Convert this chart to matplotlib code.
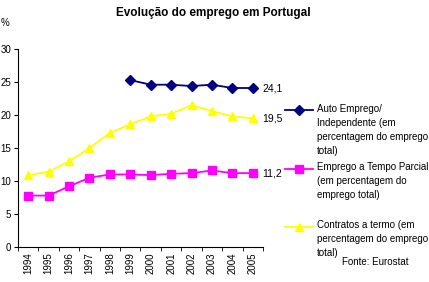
import matplotlib
matplotlib.use("Agg")
import matplotlib.pyplot as plt
from matplotlib.lines import Line2D

plt.rcParams['font.family'] = ['Liberation Sans', 'DejaVu Sans']

anos = ['1994', '1995', '1996', '1997', '1998', '1999', '2000',
        '2001', '2002', '2003', '2004', '2005']
auto_emprego = [None, None, None, None, None, 25.3, 24.6, 24.6, 24.4, 24.6, 24.1, 24.1]
tempo_parcial = [7.8, 7.8, 9.2, 10.5, 11.0, 11.0, 10.9, 11.1, 11.2, 11.6, 11.2, 11.2]
contratos_termo = [10.9, 11.4, 13.0, 15.0, 17.3, 18.6, 19.8, 20.2, 21.5, 20.6, 19.8, 19.5]

labels = ['Auto Emprego/\nIndependente (em\npercentagem do emprego\ntotal)',
          'Emprego a Tempo Parcial\n(em percentagem do\nemprego total)',
          'Contratos a termo (em\npercentagem do emprego\ntotal)']
cores = ['#000080', '#FF00FF', '#FFFF00']
marcadores = ['D', 's', '^']

fig = plt.figure(figsize=(4.29, 2.82), dpi=100)
ax = fig.add_axes([0.042, 0.124, 0.571, 0.702])

x = list(range(len(anos)))
series = [auto_emprego, tempo_parcial, contratos_termo]
for s, c, m in zip(series, cores, marcadores):
    xs = [i for i, v in zip(x, s) if v is not None]
    ys = [v for v in s if v is not None]
    ax.plot(xs, ys, color=c, marker=m, markersize=6 if m != 'D' else 5,
            linewidth=1.3, markeredgecolor=c)
    ax.text(xs[-1] + 0.45, ys[-1], ('%.1f' % ys[-1]).replace('.', ','),
            fontsize=7.5, va='center', ha='left')

ax.set_xlim(-0.5, len(anos) - 0.5)
ax.set_ylim(0, 30)
ax.set_yticks(range(0, 31, 5))
ax.set_xticks(x)
ax.set_xticklabels(anos, rotation=90, fontsize=7)
ax.set_xticks([i - 0.5 for i in range(len(anos) + 1)], minor=True)
ax.tick_params(axis='x', which='major', length=0, pad=4)
ax.tick_params(axis='x', which='minor', length=3, direction='out')
ax.tick_params(axis='y', labelsize=7, length=3, pad=2)
for sp in ['top', 'right']:
    ax.spines[sp].set_visible(False)

fig.text(0.497, 0.955, 'Evolução do emprego em Portugal', ha='center', va='center',
         fontsize=8.5, fontweight='bold')
fig.text(0.002, 0.92, '%', ha='left', va='center', fontsize=7)

# legenda desenhada à mão (marcador alinhado com a primeira linha)
leg_y = [110, 169, 227]
for yy, lab, c, m in zip(leg_y, labels, cores, marcadores):
    yf = 1 - yy / 282
    fig.add_artist(Line2D([285 / 429, 313 / 429], [yf, yf], color=c, linewidth=1.3,
                          transform=fig.transFigure))
    fig.add_artist(Line2D([299 / 429], [yf], color=c, marker=m,
                          markersize=6 if m != 'D' else 5, transform=fig.transFigure))
    fig.text(317 / 429, yf + 6.5 / 282, lab, ha='left', va='top', fontsize=7,
             linespacing=1.5)

fig.text(375 / 429, 1 - 262 / 282, 'Fonte: Eurostat', ha='center', va='center', fontsize=7)

fig.savefig('out.png', dpi=100)
